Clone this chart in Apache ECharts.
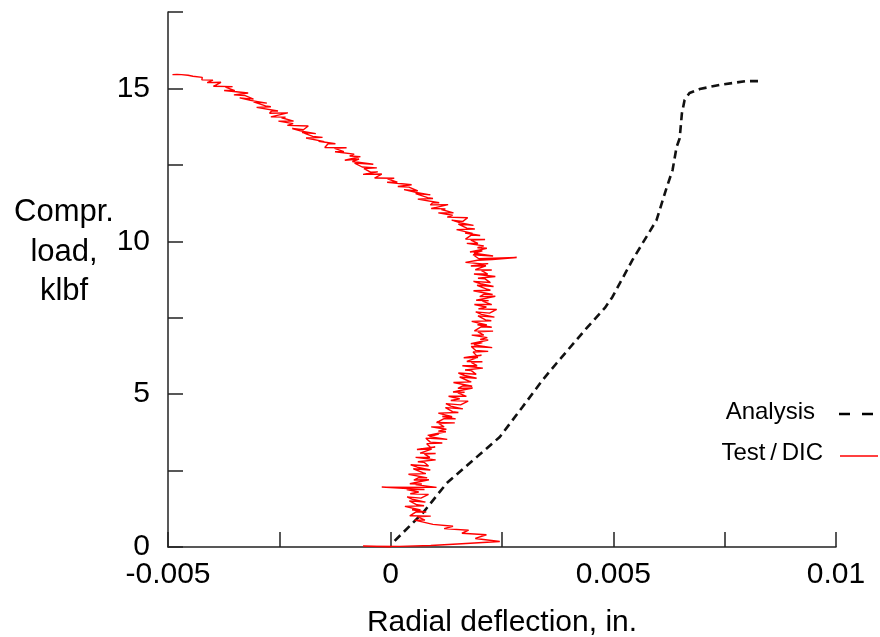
<!DOCTYPE html>
<html>
<head>
<meta charset="utf-8">
<script src="https://cdn.jsdelivr.net/npm/echarts@6/dist/echarts.min.js"></script>
<style>html,body{margin:0;padding:0;background:#fff}#c{width:880px;height:637px}</style>
</head>
<body>
<div id="c"></div>
<script>
// Axis ticks
const xTicks = [-0.005, -0.0025, 0, 0.0025, 0.005, 0.0075, 0.01];
const yTicks = [0, 2.5, 5, 7.5, 10, 12.5, 15, 17.5];

// Legend entries
const legendNames = ['Analysis', 'Test\u2009/\u2009DIC'];

// Analysis (dashed)
const analysisDefl = [0.00009, 0.00072, 0.00126, 0.00193, 0.00245, 0.00296, 0.00341, 0.00373, 0.00440, 0.00481, 0.00498, 0.00543, 0.00597, 0.00620, 0.00633, 0.00642, 0.00649, 0.00654, 0.00660, 0.00671, 0.00694, 0.00740, 0.00799, 0.00835];
const analysisLoad = [0.20, 1.11, 2.09, 2.94, 3.60, 4.58, 5.46, 6.02, 7.16, 7.82, 8.18, 9.39, 10.69, 11.77, 12.33, 13.08, 13.37, 14.19, 14.62, 14.85, 14.98, 15.12, 15.24, 15.24];

// Test / DIC (red, noisy measurement)
const testLoad = [0.01,0.03,0.02,0.05,0.10,0.18,0.28,0.40,0.45,0.55,0.60,0.68,0.74,
0.80,0.88,0.88,0.99,1.01,1.02,1.15,1.14,1.22,1.21,1.33,1.35,1.38,1.51,1.47,1.56,1.64,1.60,1.72,1.74,1.80,1.88,1.88,1.96,1.95,
2.04,2.06,2.07,2.20,2.19,2.27,2.26,2.38,2.40,2.43,2.56,2.52,2.61,2.69,2.65,2.77,2.79,2.85,2.93,2.93,3.04,3.06,3.07,3.20,3.19,3.27,3.26,3.38,3.40,3.43,3.56,3.52,3.61,3.69,3.65,3.77,3.79,3.85,3.93,3.93,
4.04,4.06,4.07,4.20,4.19,4.27,4.26,4.38,4.40,4.43,4.56,4.52,4.61,4.69,4.65,4.77,4.79,4.85,4.93,4.93,5.04,5.06,5.07,5.20,5.19,5.27,5.26,5.38,5.40,5.43,5.56,5.52,5.61,5.69,5.65,5.77,5.79,5.85,5.93,5.93,
6.04,6.06,6.07,6.20,6.19,6.27,6.26,6.38,6.40,6.43,6.56,6.52,6.61,6.69,6.65,6.77,6.79,6.85,6.93,6.93,7.04,7.06,7.07,7.20,7.19,7.27,7.26,7.38,7.40,7.43,7.56,7.52,7.61,7.69,7.65,7.77,7.79,7.85,7.93,7.93,
8.04,8.06,8.07,8.20,8.19,8.27,8.26,8.38,8.40,8.43,8.56,8.52,8.61,8.69,8.65,8.77,8.79,8.85,8.93,8.93,9.04,9.06,9.07,9.20,9.19,9.27,9.26,9.31,9.38,9.40,9.47,9.43,9.56,9.52,9.61,9.69,9.65,9.77,9.79,9.85,9.93,9.93,
10.04,10.06,10.07,10.20,10.19,10.27,10.26,10.38,10.40,10.43,10.56,10.52,10.61,10.69,10.65,10.77,10.79,10.85,10.93,10.93,11.04,11.06,11.07,11.20,11.19,11.27,11.26,11.38,11.40,11.43,11.56,11.52,11.61,11.69,11.65,11.77,11.79,11.85,11.93,11.93,
12.04,12.06,12.07,12.20,12.19,12.27,12.26,12.38,12.40,12.43,12.56,12.52,12.61,12.69,12.65,12.77,12.79,12.85,12.93,12.93,13.04,13.06,13.07,13.20,13.19,13.27,13.26,13.38,13.40,13.43,13.56,13.52,13.61,13.69,13.65,13.77,13.79,13.85,13.93,13.93,
14.04,14.06,14.07,14.20,14.19,14.27,14.26,14.38,14.40,14.43,14.56,14.52,14.61,14.69,14.65,14.77,14.79,14.85,14.93,14.93,15.04,15.06,15.07,15.20,15.19,15.27,15.28,15.36,15.40,15.43,15.45,15.46,15.45];
const testDefl = [0.00000,-0.00062,0.00020,0.00090,0.00150,0.00245,0.00190,0.00215,0.00160,0.00175,0.00120,0.00140,0.00095,
0.00094,0.00054,0.00077,0.00060,0.00090,0.00043,0.00057,0.00080,0.00048,0.00067,0.00032,0.00075,0.00059,0.00042,0.00078,0.00049,0.00037,0.00068,0.00085,0.00044,0.00063,0.00036,0.00076,-0.00020,0.00103,
0.00056,0.00070,0.00043,0.00086,0.00052,0.00063,0.00082,0.00040,0.00079,0.00072,0.00051,0.00089,0.00060,0.00045,0.00085,0.00075,0.00061,0.00101,0.00056,0.00088,0.00076,0.00101,0.00066,0.00092,0.00059,0.00100,0.00089,0.00081,0.00116,0.00089,0.00079,0.00127,0.00087,0.00108,0.00083,0.00124,0.00107,0.00125,0.00091,0.00120,
0.00108,0.00144,0.00103,0.00120,0.00146,0.00116,0.00138,0.00107,0.00152,0.00139,0.00123,0.00162,0.00135,0.00124,0.00157,0.00174,0.00135,0.00155,0.00130,0.00170,0.00151,0.00166,0.00140,0.00184,0.00151,0.00162,0.00183,0.00141,0.00181,0.00175,0.00155,0.00193,0.00166,0.00152,0.00192,0.00181,0.00167,0.00207,0.00161,0.00194,
0.00181,0.00206,0.00171,0.00196,0.00164,0.00204,0.00193,0.00185,0.00219,0.00191,0.00181,0.00228,0.00187,0.00206,0.00180,0.00219,0.00201,0.00217,0.00182,0.00209,0.00196,0.00230,0.00188,0.00203,0.00227,0.00195,0.00216,0.00182,0.00226,0.00213,0.00196,0.00233,0.00204,0.00191,0.00222,0.00238,0.00197,0.00215,0.00188,0.00227,
0.00206,0.00220,0.00192,0.00235,0.00200,0.00210,0.00229,0.00186,0.00224,0.00217,0.00194,0.00231,0.00202,0.00186,0.00224,0.00212,0.00196,0.00235,0.00187,0.00218,0.00204,0.00227,0.00190,0.00214,0.00180,0.00219,0.00206,0.00168,0.00195,0.00228,0.00283,0.00198,0.00185,0.00230,0.00187,0.00206,0.00178,0.00216,0.00195,0.00209,0.00171,0.00196,
0.00180,0.00212,0.00168,0.00181,0.00201,0.00167,0.00184,0.00148,0.00189,0.00171,0.00152,0.00186,0.00155,0.00137,0.00162,0.00173,0.00127,0.00139,0.00107,0.00141,0.00114,0.00123,0.00091,0.00129,0.00089,0.00095,0.00109,0.00061,0.00095,0.00083,0.00056,0.00089,0.00054,0.00030,0.00061,0.00041,0.00016,0.00047,-0.00008,0.00015,
-0.00007,0.00008,-0.00036,-0.00020,-0.00062,-0.00029,-0.00045,-0.00060,-0.00031,-0.00064,-0.00081,-0.00039,-0.00086,-0.00071,-0.00103,-0.00068,-0.00092,-0.00082,-0.00125,-0.00105,-0.00126,-0.00099,-0.00148,-0.00140,-0.00124,-0.00162,-0.00149,-0.00190,-0.00153,-0.00175,-0.00199,-0.00168,-0.00203,-0.00221,-0.00196,-0.00185,-0.00232,-0.00219,-0.00252,-0.00218,
-0.00245,-0.00236,-0.00269,-0.00231,-0.00272,-0.00267,-0.00253,-0.00301,-0.00269,-0.00281,-0.00308,-0.00278,-0.00315,-0.00339,-0.00308,-0.00328,-0.00352,-0.00320,-0.00374,-0.00350,-0.00371,-0.00355,-0.00398,-0.00381,-0.00412,-0.00399,-0.00424,-0.00423,-0.00444,-0.00455,-0.00470,-0.00480,-0.00490];

const FONT = 'Liberation Sans';
const analysisData = analysisDefl.map((x, i) => [x, analysisLoad[i]]);
const testData = testDefl.map((x, i) => [x, testLoad[i]]);

const chart = echarts.init(document.getElementById('c'), null, {renderer: 'canvas'});
chart.setOption({
  animation: false,
  backgroundColor: '#fff',
  textStyle: {fontFamily: FONT},
  title: {
    text: 'Compr.\nload,\nklbf',
    left: 59, top: 188, textAlign: 'center',
    textStyle: {fontFamily: FONT, fontSize: 31, fontWeight: 'normal', color: '#000', lineHeight: 39.5}
  },
  grid: {left: 168, right: 44, top: 12, bottom: 90, containLabel: false, outerBoundsMode: 'none'},
  xAxis: {
    type: 'value', min: xTicks[0], max: xTicks[xTicks.length - 1], interval: 0.0025,
    name: 'Radial deflection, in.', nameLocation: 'middle', nameGap: 61,
    nameTextStyle: {fontFamily: FONT, fontSize: 30, color: '#000'},
    axisLine: {show: true, onZero: false, lineStyle: {color: '#222', width: 1.5}},
    axisTick: {show: true, inside: true, length: 15, lineStyle: {color: '#222', width: 1.5}},
    splitLine: {show: false},
    axisLabel: {
      fontFamily: FONT, fontSize: 30, color: '#000', margin: 13, showMaxLabel: true, showMinLabel: true,
      formatter: v => {
        const k = Math.round(v / 0.0025);
        if (k % 2 !== 0) return '';
        return String(Math.round(v * 10000) / 10000);
      }
    }
  },
  yAxis: {
    type: 'value', min: yTicks[0], max: yTicks[yTicks.length - 1], interval: 2.5,
    axisLine: {show: true, onZero: false, lineStyle: {color: '#222', width: 1.5}},
    axisTick: {show: true, inside: true, length: 15, lineStyle: {color: '#222', width: 1.5}},
    splitLine: {show: false},
    axisLabel: {
      fontFamily: FONT, fontSize: 30, color: '#000', margin: 18,
      formatter: v => (Math.round(v / 2.5) % 2 === 0 && v < 17) ? String(v) : ''
    }
  },
  graphic: [
    {type: 'text', right: 65, top: 400,
     style: {text: legendNames[0], font: '24px "Liberation Sans"', fill: '#000'}},
    {type: 'line', shape: {x1: 839, y1: 414, x2: 874, y2: 414},
     style: {stroke: '#000', lineWidth: 2.5, lineDash: [11, 12]}},
    {type: 'text', right: 57, top: 441,
     style: {text: legendNames[1], font: '24px "Liberation Sans"', fill: '#000'}},
    {type: 'line', shape: {x1: 840, y1: 456, x2: 878, y2: 456},
     style: {stroke: '#ff0000', lineWidth: 1.6}}
  ],
  series: [
    {
      name: legendNames[0], type: 'line', data: analysisData, showSymbol: false, symbol: 'none',
      smooth: false, clip: false,
      lineStyle: {color: '#111', width: 2.6, type: [8, 5]}
    },
    {
      name: legendNames[1], type: 'line', data: testData, showSymbol: false, symbol: 'none',
      smooth: false, clip: false,
      lineStyle: {color: '#ff0000', width: 1.4}
    }
  ]
});
</script>
</body>
</html>
